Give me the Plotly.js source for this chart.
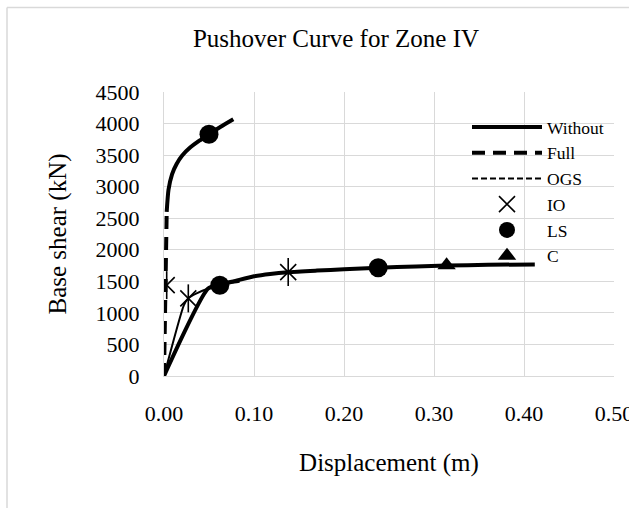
<!DOCTYPE html>
<html>
<head>
<meta charset="utf-8">
<script src="https://cdn.plot.ly/plotly-3.0.1.min.js"></script>
<style>
html,body{margin:0;padding:0;background:#fff;}
#chart{width:629px;height:508px;}
</style>
</head>
<body>
<div id="chart"></div>
<script>
// Data
const withoutX = [0, 0.049, 0.062, 0.077, 0.100, 0.118, 0.138, 0.170, 0.200, 0.238, 0.280, 0.314, 0.360, 0.412];
const withoutY = [0, 1385, 1450, 1500, 1580, 1618, 1645, 1670, 1690, 1715, 1735, 1750, 1762, 1768];

const fullX = [0, 0.003, 0.005, 0.009, 0.014, 0.020, 0.029, 0.040, 0.050, 0.063, 0.077];
const fullY = [0, 2600, 2950, 3200, 3360, 3490, 3620, 3735, 3832, 3950, 4068];

const ogsX = [0, 0.022, 0.027, 0.035, 0.050, 0.062, 0.075, 0.084];
const ogsY = [0, 1120, 1230, 1300, 1390, 1440, 1475, 1495];

const ioX = [0.003, 0.027, 0.138];
const ioY = [1440, 1230, 1647];

const lsX = [0.050, 0.062, 0.238];
const lsY = [3832, 1437, 1716];

const cX = [0.314];
const cY = [1753];

const seriesNames = ["Without", "Full", "OGS", "IO", "LS", "C"];
const xTickVals = [0, 0.1, 0.2, 0.3, 0.4, 0.5];
const yTickVals = [0, 500, 1000, 1500, 2000, 2500, 3000, 3500, 4000, 4500];

const black = "#000000";
const traces = [
  {x: withoutX, y: withoutY, mode: "lines", name: seriesNames[0], legendrank: 1,
   line: {color: black, width: 4, shape: "spline", smoothing: 0.6}},
  {x: fullX.slice(0, 2), y: fullY.slice(0, 2), mode: "lines", name: seriesNames[1], legendrank: 2,
   line: {color: black, width: 4, dash: "13px,8px"}},
  {x: fullX.slice(1), y: fullY.slice(1), mode: "lines", showlegend: false, hoverinfo: "skip",
   line: {color: black, width: 4, shape: "spline", smoothing: 0.6}},
  {x: ogsX, y: ogsY, mode: "lines", showlegend: false,
   line: {color: black, width: 2, shape: "spline", smoothing: 0.5}},
  {x: [null], y: [null], mode: "lines", name: seriesNames[2], legendrank: 3,
   line: {color: black, width: 2, dash: "6px,3px"}},
  {x: ioX, y: ioY, mode: "markers", name: seriesNames[3], legendrank: 4,
   marker: {symbol: "x-thin-open", size: 16, color: black, line: {color: black, width: 1.6}}},
  {x: ioX, y: ioY, mode: "markers", showlegend: false,
   marker: {symbol: "line-ns-open", size: 20, color: black, line: {color: black, width: 1.6}}},
  {x: lsX, y: lsY, mode: "markers", name: seriesNames[4], legendrank: 5,
   marker: {symbol: "circle", size: 19, color: black}},
  {x: cX, y: cY, mode: "markers", name: seriesNames[5], legendrank: 6,
   marker: {symbol: "triangle-up", size: 16, color: black}}
];

const L = 164, R = 15, T = 92, B = 132;
const W = 629, H = 508;
const pw = W - L - R, ph = H - T - B;
const px2x = p => (p - L) / pw;
const py2y = p => (H - B - p) / ph;

const font = "'Liberation Serif', 'Times New Roman', Tinos, serif";
const layout = {
  width: W, height: H,
  margin: {l: L, r: R, t: T, b: B, pad: 0, autoexpand: false},
  paper_bgcolor: "#ffffff", plot_bgcolor: "#ffffff",
  font: {family: font, color: "#000000", size: 21},
  title: {text: "Pushover Curve for Zone IV", font: {family: font, size: 25, color: "#000"},
          x: 336 / W, xanchor: "center", y: 1 - 38 / H, yanchor: "middle", xref: "container", yref: "container"},
  xaxis: {range: [0, 0.5], tickvals: xTickVals, tickformat: ".2f", showgrid: true, gridcolor: "#d9d9d9",
          gridwidth: 1, zeroline: false, showline: true, linecolor: "#d9d9d9", linewidth: 1,
          ticks: "", ticklabelstandoff: 18, ticklabeloverflow: "allow", tickfont: {family: font, size: 22},
          title: {text: "Displacement (m)", font: {family: font, size: 25}, standoff: 28}},
  yaxis: {range: [0, 4500], tickvals: yTickVals, showgrid: true, gridcolor: "#d9d9d9", gridwidth: 1,
          zeroline: false, showline: true, linecolor: "#d9d9d9", linewidth: 1,
          ticks: "", ticklabelstandoff: 19, tickfont: {family: font, size: 22},
          title: {text: "Base shear (kN)", font: {family: font, size: 25}, standoff: 21}},
  showlegend: true,
  legend: {x: px2x(467), y: py2y(109), xanchor: "left", yanchor: "top", bgcolor: "rgba(0,0,0,0)",
           borderwidth: 0, font: {family: font, size: 17.5}, itemwidth: 70, tracegroupgap: 0},
  shapes: [
    {type: "line", xref: "paper", yref: "paper", x0: px2x(7), x1: px2x(7), y0: py2y(H + 5), y1: py2y(7.5),
     line: {color: "#d9d9d9", width: 1.5}},
    {type: "line", xref: "paper", yref: "paper", x0: px2x(7), x1: px2x(W + 5), y0: py2y(7.5), y1: py2y(7.5),
     line: {color: "#d9d9d9", width: 1.5}}
  ]
};

Plotly.newPlot("chart", traces, layout, {staticPlot: true, displayModeBar: false});
</script>
</body>
</html>
